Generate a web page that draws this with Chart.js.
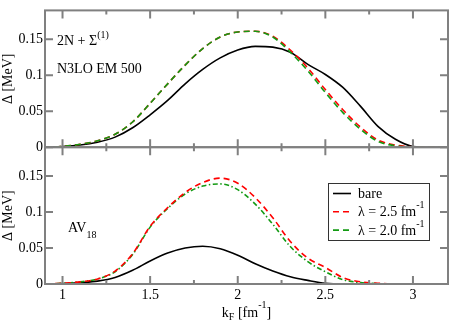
<!DOCTYPE html>
<html>
<head>
<meta charset="utf-8">
<script src="https://cdn.jsdelivr.net/npm/chart.js@4"></script>
<style>
  html, body { margin: 0; padding: 0; background: #fff; }
  #wrap { position: relative; width: 450px; height: 325px; }
</style>
</head>
<body>
<div id="wrap"><canvas id="gapChart" width="450" height="325"></canvas></div>
<script>
// Fermi momentum grid, fm^-1
const kF = [0.9, 1.0, 1.1, 1.2, 1.3, 1.4, 1.5, 1.6, 1.7, 1.8, 1.9, 2.0,
            2.1, 2.2, 2.3, 2.4, 2.5, 2.6, 2.7, 2.8, 2.9, 3.0, 3.1, 3.2];

// top panel: 2N + Sigma(1), N3LO EM 500 (gap in MeV)
const topBare = [0, 0.001, 0.003, 0.007, 0.014, 0.027, 0.045, 0.065, 0.088, 0.108, 0.124, 0.135,
                 0.140, 0.139, 0.132, 0.115, 0.101, 0.083, 0.057, 0.029, 0.011, 0.001, 0, 0];
const topL25 = [0, 0.001, 0.004, 0.009, 0.018, 0.035, 0.061, 0.088, 0.114, 0.137, 0.153, 0.160,
                0.161, 0.154, 0.135, 0.110, 0.080, 0.052, 0.028, 0.010, 0.003, 0.0005, 0, 0];
const topL20 = [0, 0.001, 0.004, 0.009, 0.018, 0.035, 0.061, 0.088, 0.114, 0.137, 0.153, 0.160,
                0.161, 0.153, 0.132, 0.106, 0.076, 0.048, 0.025, 0.008, 0.002, 0, 0, 0];

// bottom panel: AV18
const botBare = [0, 0.0005, 0.002, 0.004, 0.009, 0.019, 0.032, 0.043, 0.050, 0.0525, 0.049, 0.040,
                 0.028, 0.018, 0.010, 0.005, 0.001, 0, 0, 0, 0, 0, 0, 0];
const botL25 = [0, 0.001, 0.003, 0.007, 0.018, 0.042, 0.080, 0.106, 0.127, 0.141, 0.147, 0.140,
                0.120, 0.092, 0.059, 0.036, 0.023, 0.009, 0.003, 0.001, 0, 0, 0, 0];
const botL20 = [0, 0.001, 0.003, 0.007, 0.017, 0.041, 0.079, 0.105, 0.125, 0.136, 0.139, 0.131,
                0.111, 0.083, 0.052, 0.031, 0.017, 0.006, 0.002, 0.0005, 0, 0, 0, 0];

// axes
const xRange = [0.9, 3.2];
const yRange = [0, 0.19];
const xTicks = [1, 1.5, 2, 2.5, 3];
const xTicksAll = [1, 1.25, 1.5, 1.75, 2, 2.25, 2.5, 2.75, 3];
const yTicks = [0, 0.05, 0.1, 0.15];
const legendNames = ['bare', 'λ = 2.5 fm', 'λ = 2.0 fm'];

const serif = '"Liberation Serif", "DejaVu Serif", serif';
const frameColor = '#808080';
const red = '#ff0000';
const green = '#139a13';

function pts(arr) {
    return kF.map((k, i) => ({ x: k, y: arr[i] }));
}

// text with sub/superscripts: parts = [text, size, dy]
function richText(ctx, parts, x, y, align) {
    let w = 0;
    parts.forEach(p => { ctx.font = p[1] + 'px ' + serif; w += ctx.measureText(p[0]).width; });
    let cx = align === 'center' ? x - w / 2 : x;
    parts.forEach(p => {
        ctx.font = p[1] + 'px ' + serif;
        ctx.fillText(p[0], cx, y + (p[2] || 0));
        cx += ctx.measureText(p[0]).width;
    });
}

// frame with inward ticks on all sides, like the original
const framePlugin = {
    id: 'frame',
    afterDatasetsDraw(chart) {
        const ctx = chart.ctx;
        const area = chart.chartArea;
        const xs = chart.scales.x;
        ctx.save();
        ctx.strokeStyle = frameColor;
        ctx.lineWidth = 2;
        ['yTop', 'yBot'].forEach(id => {
            const s = chart.scales[id];
            ctx.strokeRect(area.left, s.top, area.right - area.left, s.bottom - s.top);
            ctx.beginPath();
            xTicksAll.forEach(v => {
                const px = xs.getPixelForValue(v);
                const len = xTicks.includes(v) ? 8 : 4;
                ctx.moveTo(px, s.top); ctx.lineTo(px, s.top + len);
                ctx.moveTo(px, s.bottom); ctx.lineTo(px, s.bottom - len);
            });
            yTicks.forEach(v => {
                const py = s.getPixelForValue(v);
                ctx.moveTo(area.left, py); ctx.lineTo(area.left + 8, py);
                ctx.moveTo(area.right, py); ctx.lineTo(area.right - 8, py);
            });
            ctx.stroke();
        });
        ctx.restore();
    }
};

// labels, x title and the legend box
const textPlugin = {
    id: 'texts',
    afterDraw(chart) {
        const ctx = chart.ctx;
        const area = chart.chartArea;
        ctx.save();
        ctx.fillStyle = '#000';
        ctx.textBaseline = 'alphabetic';

        richText(ctx, [['2N + Σ', 14], ['(1)', 10, -7]], 57, 45);
        richText(ctx, [['N3LO EM 500', 14]], 57, 72.5);
        richText(ctx, [['AV', 14], ['18', 10, 6]], 68, 231.5);

        const cx = (area.left + area.right) / 2;
        richText(ctx, [['k', 14], ['F', 10, 3], [' [fm', 14], ['-1', 10, -9], [']', 14]], cx, 316.5, 'center');

        // legend
        const lx = 328.5, ly = 183.5, lw = 101, lh = 57;
        ctx.fillStyle = '#fff';
        ctx.fillRect(lx, ly, lw, lh);
        ctx.strokeStyle = '#333';
        ctx.lineWidth = 1;
        ctx.strokeRect(lx, ly, lw, lh);
        const styles = [['#000', []], [red, [6, 4]], [green, [6, 4]]];
        styles.forEach((st, i) => {
            const y = 193.5 + i * 18.3;
            ctx.strokeStyle = st[0];
            ctx.lineWidth = 1.6;
            ctx.setLineDash(st[1]);
            ctx.beginPath();
            ctx.moveTo(333, y); ctx.lineTo(351, y);
            ctx.stroke();
            ctx.setLineDash([]);
            ctx.fillStyle = '#000';
            if (i === 0) richText(ctx, [[legendNames[i], 14]], 358, y + 4.5);
            else richText(ctx, [[legendNames[i], 14], ['-1', 10, -8]], 358, y + 4.5);
        });
        ctx.restore();
    }
};

const tickFont = { family: serif, size: 14 };

function yScale() {
    return {
        type: 'linear',
        position: 'left',
        stack: 'panels',
        stackWeight: 1,
        min: yRange[0],
        max: yRange[1],
        grid: { display: false, drawTicks: false },
        border: { display: false },
        afterBuildTicks: s => { s.ticks = yTicks.map(v => ({ value: v })); },
        afterFit: s => { s.width = 45; },
        ticks: { color: '#000', font: tickFont, padding: 2, callback: v => String(v) },
        title: { display: true, text: 'Δ [MeV]', color: '#000', font: tickFont, padding: 0 }
    };
}

new Chart(document.getElementById('gapChart'), {
    type: 'line',
    data: {
        datasets: [
            { label: 'top bare', data: pts(topBare), yAxisID: 'yTop', borderColor: '#000', order: 2 },
            { label: 'top 2.5', data: pts(topL25), yAxisID: 'yTop', borderColor: red, borderDash: [6, 4], order: 1 },
            { label: 'top 2.0', data: pts(topL20), yAxisID: 'yTop', borderColor: green, borderDash: [6, 4], order: 0 },
            { label: 'AV18 bare', data: pts(botBare), yAxisID: 'yBot', borderColor: '#000', order: 5 },
            { label: 'AV18 2.0', data: pts(botL20), yAxisID: 'yBot', borderColor: green, borderDash: [5, 2.5, 1.5, 2.5], order: 4 },
            { label: 'AV18 2.5', data: pts(botL25), yAxisID: 'yBot', borderColor: red, borderDash: [6, 4], order: 3 }
        ]
    },
    options: {
        responsive: false,
        animation: false,
        layout: { padding: { top: 1, right: 2, left: 0, bottom: 0 } },
        plugins: { legend: { display: false }, tooltip: { enabled: false } },
        elements: {
            point: { radius: 0 },
            line: { borderWidth: 1.6, cubicInterpolationMode: 'monotone', fill: false }
        },
        scales: {
            x: {
                type: 'linear',
                min: xRange[0],
                max: xRange[1],
                grid: { display: false, drawTicks: false },
                border: { display: false },
                afterBuildTicks: s => { s.ticks = xTicks.map(v => ({ value: v })); },
                afterFit: s => { s.height = 41; },
                ticks: { color: '#000', font: tickFont, padding: 3, autoSkip: false, maxRotation: 0, callback: v => String(v) }
            },
            // stacked axes are laid out bottom-up in declaration order
            yBot: yScale(),
            yTop: yScale()
        }
    },
    plugins: [framePlugin, textPlugin]
});
</script>
</body>
</html>
